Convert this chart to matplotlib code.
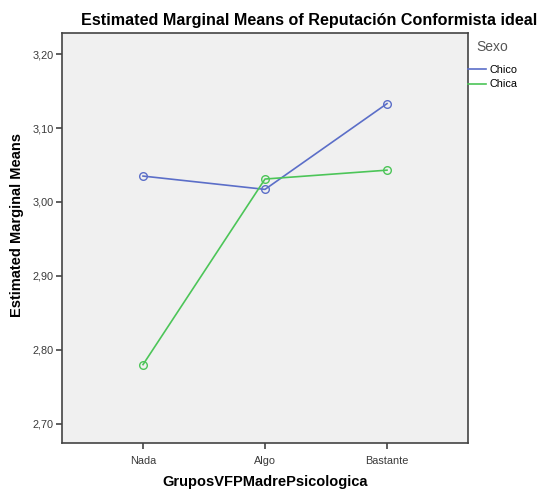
import matplotlib
matplotlib.use("Agg")
import matplotlib.pyplot as plt
from matplotlib.lines import Line2D

plt.rcParams['font.family'] = ['Liberation Sans', 'DejaVu Sans']

categories = ["Nada", "Algo", "Bastante"]
chico = [3.035, 3.017, 3.133]
chica = [2.780, 3.031, 3.043]
yticks = [2.70, 2.80, 2.90, 3.00, 3.10, 3.20]
ytick_labels = ["2,70", "2,80", "2,90", "3,00", "3,10", "3,20"]

blue = '#5b6ec8'
green = '#4cc558'

fig = plt.figure(figsize=(5.37, 4.90), dpi=100)
W, H = 537, 490
ax = fig.add_axes([62 / W, 1 - 443 / H, (468 - 62) / W, (443 - 33) / H])
ax.set_facecolor('#f0f0f0')

x = list(range(len(categories)))
ax.plot(x, chico, color=blue, lw=1.2, marker='o', ms=5.5, mfc='none', mec=blue, mew=1.0)
ax.plot(x, chica, color=green, lw=1.2, marker='o', ms=5.5, mfc='none', mec=green, mew=1.0)

ax.set_xlim(-0.664, 2.664)
ax.set_ylim(2.674, 3.2285)
ax.set_xticks(x)
ax.set_xticklabels(categories, fontsize=7.8)
ax.set_yticks(yticks)
ax.set_yticklabels(ytick_labels, fontsize=7.8)
for s in ax.spines.values():
    s.set_color('#444444')
    s.set_linewidth(1.2)
ax.tick_params(axis='both', direction='out', length=4.5, width=1.2, color='#444444', labelcolor='#3a3a3a')
ax.tick_params(axis='x', pad=4.5)
ax.tick_params(axis='y', pad=1.5)

fig.text(265 / W, 1 - 482 / H, "GruposVFPMadrePsicologica", ha='center', va='center',
         fontsize=10.5, fontweight='bold')
fig.text(17 / W, 1 - 225 / H, "Estimated Marginal Means", ha='center', va='center',
         rotation=90, fontsize=10.5, fontweight='bold')
fig.text(309 / W, 1 - 21 / H, "Estimated Marginal Means of Reputación Conformista ideal",
         ha='center', va='center', fontsize=11.6, fontweight='bold')

handles = [Line2D([0], [0], color=blue, lw=1.2), Line2D([0], [0], color=green, lw=1.2)]
leg = fig.legend(handles, ["Chico", "Chica"], title="Sexo", loc='upper left',
                 bbox_to_anchor=(468 / W, 1 - 40 / H), frameon=False, fontsize=7.8,
                 title_fontsize=10, handlelength=1.7, handletextpad=0.25, labelspacing=0.4,
                 borderaxespad=0, borderpad=0)
leg.get_title().set_color('#555555')
leg._legend_box.align = "center"
leg._legend_box.sep = 8

fig.savefig("out.png", dpi=100, facecolor='white')
